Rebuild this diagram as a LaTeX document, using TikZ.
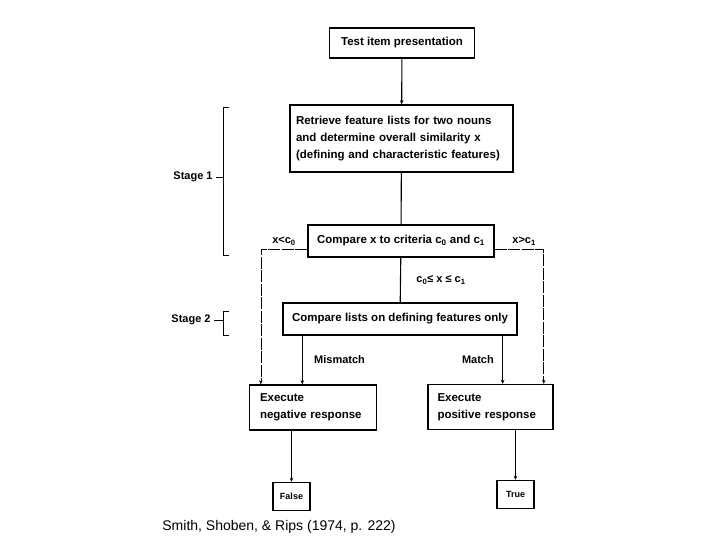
\documentclass[tikz,border=0pt]{standalone}
\usepackage{fontspec}
\setmainfont{Liberation Sans}
\setsansfont{Liberation Sans}
\usetikzlibrary{arrows.meta,positioning,calc}

\begin{document}
\begin{tikzpicture}[
  x=1pt, y=-1pt,
  box/.style={draw, line width=1.4pt, align=center, minimum height=32pt,
              inner sep=2pt, font=\bfseries\fontsize{11.5}{17}\selectfont},
  leftbox/.style={box, align=left},
  endbox/.style={box, minimum width=37pt, minimum height=28pt,
                 font=\bfseries\fontsize{9}{10}\selectfont},
  lbl/.style={font=\bfseries\fontsize{11}{12}\selectfont},
  line/.style={line width=1.1pt},
  faint/.style={line width=0.6pt, dash pattern=on 12pt off 1.5pt},
  tip/.style={-{Stealth[length=4pt,width=3.5pt]}},
  arrow/.style={line, tip}
]
\useasboundingbox (0,0) rectangle (720,540);

\node[box, minimum width=145pt, minimum height=30pt] (test) at (402,43) {Test item presentation};
\node[leftbox, text width=211pt, inner xsep=6pt, minimum height=67pt] (retr) at (401.5,138.5)
  {Retrieve feature lists for two nouns\\and determine overall similarity x\\(defining and characteristic features)};
\node[box, minimum width=186pt] (comp) at (401,241) {Compare x to criteria c\textsubscript{0} and c\textsubscript{1}};
\node[box, minimum width=234pt] (lists) at (400,319) {Compare lists on defining features only};
\node[leftbox, text width=106pt, inner xsep=10.5pt, minimum height=45pt] (neg) at (313,407.5) {Execute\\negative response};
\node[leftbox, text width=106pt, inner xsep=9.5pt, minimum height=45pt] (pos) at (490.5,407) {Execute\\positive response};
\node[endbox] (false) at (291.5,496.5) {False};
\node[endbox] (true) at (515.5,494.5) {True};

\node[lbl] (stage1) at (193,177) {Stage 1};
\node[lbl] (stage2) at (191,320) {Stage 2};
\coordinate (b1) at (223,177);
\coordinate (b2) at (223,320);
\node[font=\fontsize{14}{16}\selectfont] (src) at (279,527) {Smith, Shoben, \& Rips (1974, p. 222)};

\draw[arrow] (test) -- (retr);
\draw[line] (retr) -- (comp);
\draw[line] (comp) -- node[lbl, right=12pt] {c\textsubscript{0}≤ x ≤ c\textsubscript{1}} (lists);
\draw[faint, tip] ([yshift=-8pt]comp.west) -| node[lbl, above, pos=.25] {x<c\textsubscript{0}}
  ([xshift=12pt]neg.north west);
\draw[faint, tip] ([yshift=-8pt]comp.east) -| node[lbl, above, pos=.3] {x>c\textsubscript{1}}
  ([xshift=-10pt]pos.north east);
\draw[arrow] ([xshift=20pt]lists.south west) -- node[lbl, right=8pt] {Mismatch}
  ([xshift=20pt]lists.south west |- neg.north);
\draw[arrow] ([xshift=-15pt]lists.south east) -- node[lbl, left=5pt] {Match}
  ([xshift=-15pt]lists.south east |- pos.north);
\draw[arrow] (false.north |- neg.south) -- (false);
\draw[arrow] (true.north |- pos.south) -- (true);

\draw[line width=0.9pt] (229,107) -- (223,107) -- (223,255) -- (229,255);
\draw[line width=0.9pt] (229,311) -- (223,311) -- (223,335) -- (229,335);
\draw[line width=0.9pt] (stage1) -- (b1);
\draw[line width=0.9pt] (stage2) -- (b2);
\end{tikzpicture}
\end{document}
